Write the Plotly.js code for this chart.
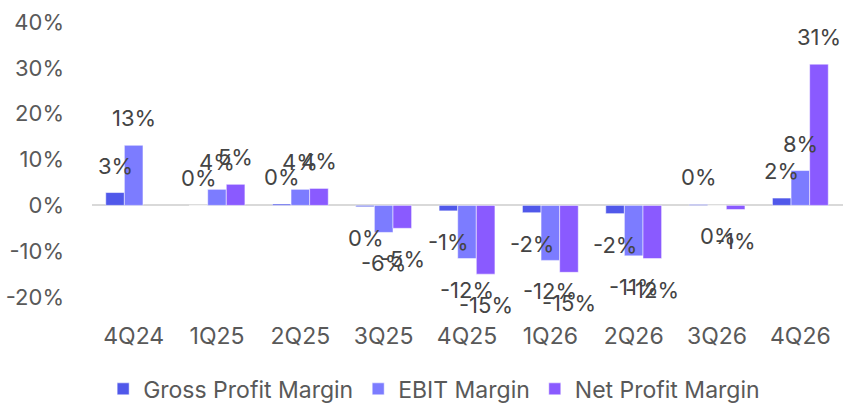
<!DOCTYPE html>
<html><head><meta charset="utf-8">
<script src="https://cdn.plot.ly/plotly-3.0.1.min.js"></script>
<style>body{margin:0;background:#fff}#c{width:843px;height:403px}</style>
</head><body><div id="c"></div>
<script>
const categories = ['4Q24','1Q25','2Q25','3Q25','4Q25','1Q26','2Q26','3Q26','4Q26'];
const grossMargin = [2.8, 0, 0.3, -0.3, -1.2, -1.6, -1.8, 0.2, 1.6];
const ebitMargin = [13.1, 3.5, 3.5, -5.9, -11.6, -12.0, -11.0, 0, 7.6];
const netMargin = [null, 4.6, 3.7, -5.0, -15.0, -14.6, -11.6, -0.9, 30.8];
const seriesNames = ['Gross Profit Margin','EBIT Margin','Net Profit Margin'];
const colors = ['#5058EA','#7C7CFF','#8A5AFF'];
const yTickVals = [-20,-10,0,10,20,30,40];
const yTickText = ['-20%','-10%','0%','10%','20%','30%','40%'];

const FONT = 'Inter, sans-serif';
const W=843,H=403,ML=92,MR=0,MT=22,MB=83,BARGAP=0.33;
const series=[grossMargin,ebitMargin,netMargin];
const catW=(W-ML-MR)/categories.length;
const barW=catW*(1-BARGAP)/series.length;

function lbl(v){let r=Math.round(v);if(r===0)r=0;return r+'%';}
const data=series.map((vals,i)=>({
  type:'bar',x:categories,y:vals,name:seriesNames[i],
  marker:{color:colors[i],line:{color:'rgba(255,255,255,0.5)',width:1}},
  hoverinfo:'skip'
}));
const annotations=[];
series.forEach((vals,i)=>{
  vals.forEach((v,j)=>{
    if(v===null)return;
    const neg = v<0 || (v===0 && i===1 && j===7);
    annotations.push({
      x:categories[j],y:v,xref:'x',yref:'y',text:lbl(v),showarrow:false,
      xshift:(i-1)*barW,yshift:neg?-31:27,
      font:{family:FONT,size:22,color:'#444'}
    });
  });
});
const layout={
  width:W,height:H,
  margin:{l:ML,r:MR,t:MT,b:MB,autoexpand:false},
  barmode:'group',bargap:BARGAP,bargroupgap:0,
  paper_bgcolor:'#fff',plot_bgcolor:'#fff',
  font:{family:FONT,size:22,color:'#595959'},
  xaxis:{showgrid:false,showline:false,zeroline:false,ticks:'',tickangle:0,tickfont:{size:23,color:'#595959'},ticklabelstandoff:0,automargin:false},
  yaxis:{range:[-25,40],tickmode:'array',tickvals:yTickVals,ticktext:yTickText,showgrid:false,zeroline:true,zerolinecolor:'#d9d9d9',zerolinewidth:2,showline:false,ticks:'',tickfont:{size:22,color:'#595959'},ticklabelstandoff:27,automargin:false},
  legend:{orientation:'h',xref:'container',x:0.515,xanchor:'center',yref:'container',y:0.035,yanchor:'middle',font:{size:23,color:'#595959'},itemwidth:30,traceorder:'normal'},
  annotations:annotations
};
Plotly.newPlot('c',data,layout,{displayModeBar:false,staticPlot:true});
</script></body></html>
